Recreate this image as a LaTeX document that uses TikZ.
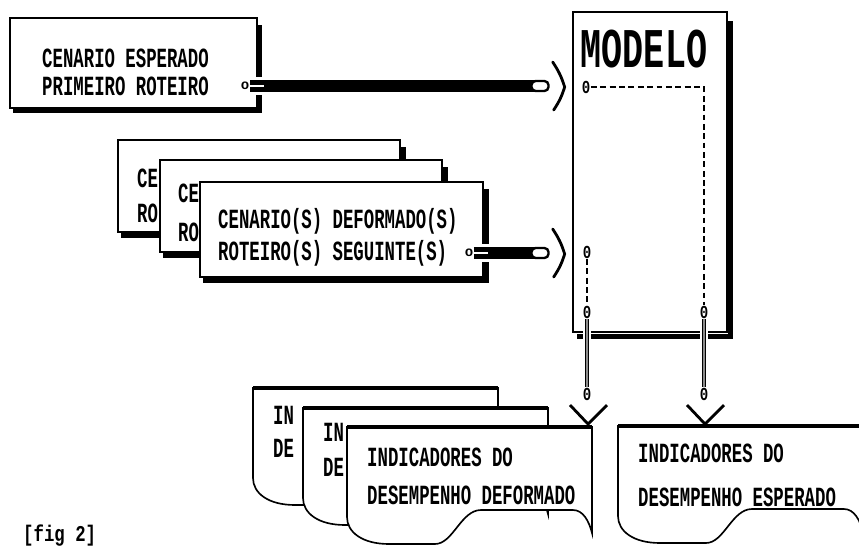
\documentclass[tikz,border=0pt]{standalone}
\usepackage{graphicx}
\usepackage{fontspec}
\newfontfamily\mono{Liberation Mono}
\usetikzlibrary{positioning, calc}

\def\px{0.03cm}
\newcommand{\alto}[2][1.6]{\scalebox{1}[#1]{#2}}
% folha de indicadores: canto superior esquerdo (#1,#2)
\newcommand{\folha}[2]{%
  \draw[doc] (#1,#2) -- ({#1+245},#2) -- ({#1+245},{#2+106})
    .. controls ({#1+242},{#2+94}) and ({#1+236},{#2+83}) .. ({#1+226},{#2+83})
    -- ({#1+134},{#2+83})
    .. controls ({#1+114},{#2+83}) and ({#1+106},{#2+117}) .. ({#1+88},{#2+117})
    -- ({#1+42},{#2+117})
    .. controls ({#1+15},{#2+117}) and (#1,{#2+105}) .. (#1,{#2+90}) -- cycle;
  \draw[line width=3pt] (#1,#2) -- ({#1+245},#2);}

\tikzset{
  box/.style={draw, line width=1.2pt, fill=white, inner sep=0pt},
  sombra/.style={line width=4.5pt},
  txt/.style={anchor=west, inner sep=0pt, font=\mono\bfseries\fontsize{14.8}{16}\selectfont},
  port/.style={inner sep=0.4pt, font=\mono\bfseries\fontsize{12}{12}\selectfont},
  pipe/.style={line width=9.5pt, preaction={draw=white, line width=15pt}},
  capsula/.style={draw, fill=white, line width=2pt, rounded corners=3.5pt, minimum width=17*\px, minimum height=10*\px, inner sep=0pt},
  chevron/.style={line width=2.4pt, line join=round, line cap=round},
  tracejado/.style={line width=1.3pt, dash pattern=on 5pt off 3pt},
  duplo/.style={line width=0.8pt, double=black!45, double distance=2.2pt, preaction={draw=white, line width=7pt}},
  vee/.style={line width=2.4pt},
  doc/.style={draw, fill=white, line width=1.4pt},
}

\begin{document}
\begin{tikzpicture}[x=0.03cm, y=-0.03cm]
  \clip (0,0) rectangle (859,546);
  % cenario esperado
  \node[box, minimum width=247*\px, minimum height=90*\px] (esperado) at (133.5,63) {};
  \draw[sombra] ([shift={(4,2)}]esperado.south west) -| ([shift={(2,8)}]esperado.north east);
  \node[txt] (esp1) at (42,58) {\alto{CENARIO ESPERADO}};
  \node[txt] (esp2) at (42,86) {\alto{PRIMEIRO ROTEIRO}};
  \node[port] (o1) at (245,86) {o};
  \coordinate (fim1) at (540,86);
  \draw[pipe] (o1.east) -- (fim1);
  \draw[white, line width=2.2pt] (o1.east) -- ++(14,0);
  \node[capsula] (cap1) at (fim1) {};
  \draw[chevron] ([shift={(3,-24)}]cap1.east) to[bend left=8] ([shift={(15,1)}]cap1.east) to[bend left=8] ([shift={(4,24)}]cap1.east);

  % modelo
  \node[box, minimum width=154*\px, minimum height=320*\px] (modelo) at (650,172) {};
  \draw[sombra] ([shift={(5,4)}]modelo.south west) -| ([shift={(3,10)}]modelo.north east);
  \node[inner sep=0pt, font=\mono\bfseries\fontsize{29.9}{30}\selectfont] (titulo) at (644,49) {\alto{MODELO}};
  \node[port] (n0) at (586,87) {\alto[1.3]{0}};
  \node[port] (n1) at (587,252) {\alto[1.3]{0}};
  \node[port] (n2) at (587,312) {\alto[1.3]{0}};
  \node[port] (n3) at (704,312) {\alto[1.3]{0}};
  \node[port] (n4) at (587,394) {\alto[1.3]{0}};
  \node[port] (n5) at (704,394) {\alto[1.3]{0}};
  \draw[tracejado] (n0) -| (n3);
  \draw[tracejado] (n1) -- (n2);
  \draw[duplo] (n2) -- (n4);
  \draw[duplo] (n3) -- (n5);

  % cenarios deformados
  \node[box, minimum width=282*\px, minimum height=92*\px] (defA) at (259,186) {};
  \draw[sombra] ([shift={(4,3)}]defA.south west) -| ([shift={(3,8)}]defA.north east);
  \node[txt] (defA1) at (137,178) {\alto{CE}};
  \node[txt] (defA2) at (137,213) {\alto{RO}};
  \node[box, minimum width=282*\px, minimum height=92*\px] (defB) at (301,206) {};
  \draw[sombra] ([shift={(4,3)}]defB.south west) -| ([shift={(3,8)}]defB.north east);
  \node[txt] (defB1) at (178,193) {\alto{CE}};
  \node[txt] (defB2) at (178,232) {\alto{RO}};
  \node[box, minimum width=283*\px, minimum height=95*\px] (defC) at (341.5,229.5) {};
  \draw[sombra] ([shift={(4,3)}]defC.south west) -| ([shift={(3,8)}]defC.north east);
  \node[txt] (defC1) at (218,221) {\alto{CENARIO(S) DEFORMADO(S)}};
  \node[txt] (defC2) at (218,253) {\alto{ROTEIRO(S) SEGUINTE(S)}};
  \node[port] (o2) at (469,253) {o};
  \coordinate (fim2) at (540,253);
  \draw[pipe] (o2.east) -- (fim2);
  \draw[white, line width=2.2pt] (o2.east) -- ++(14,0);
  \node[capsula] (cap2) at (fim2) {};
  \draw[chevron] ([shift={(3,-24)}]cap2.east) to[bend left=8] ([shift={(15,1)}]cap2.east) to[bend left=8] ([shift={(4,24)}]cap2.east);

  % indicadores
  \folha{253}{388}
  \node[txt] (indA1) at (273,415) {\alto{IN}};
  \node[txt] (indA2) at (273,448) {\alto{DE}};
  \folha{303}{408}
  \node[txt] (indB1) at (323,432) {\alto{IN}};
  \node[txt] (indB2) at (323,467) {\alto{DE}};
  \folha{347}{427}
  \node[txt] (indC1) at (367,457) {\alto{INDICADORES DO}};
  \node[txt] (indC2) at (367,495) {\alto{DESEMPENHO DEFORMADO}};
  \folha{618}{426}
  \node[txt] (indE1) at (638,453) {\alto{INDICADORES DO}};
  \node[txt] (indE2) at (638,497) {\alto{DESEMPENHO ESPERADO}};
  \coordinate (pontaC) at (588,424);
  \coordinate (pontaE) at (705,424);
  \draw[vee] ([shift={(-18,-19)}]pontaC) -- (pontaC) -- ([shift={(19,-19)}]pontaC);
  \draw[vee] ([shift={(-18,-19)}]pontaE) -- (pontaE) -- ([shift={(19,-19)}]pontaE);

  \node[txt, font=\mono\bfseries\fontsize{14.8}{16}\selectfont] (fig) at (23,536) {\alto[1.3]{[fig 2]}};
\end{tikzpicture}
\end{document}
